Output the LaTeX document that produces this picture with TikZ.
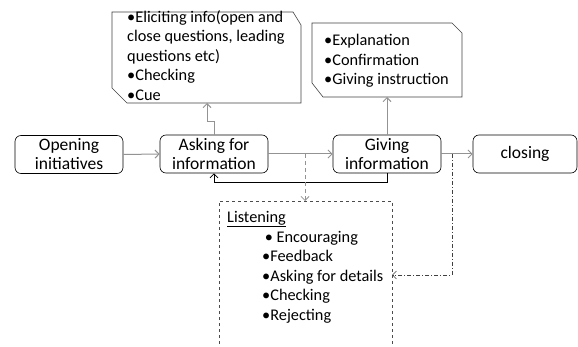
\documentclass[tikz,border=0pt]{standalone}
\usepackage{fontspec}
\setmainfont{Carlito}
\usetikzlibrary{arrows.meta}
\tikzset{
  stage/.style={draw=black, line width=0.6pt, rounded corners=6pt, minimum width=108pt, minimum height=38pt, align=center, inner sep=0pt, font=\fontsize{17.5}{19}\selectfont},
  flow/.style={draw=gray!85, line width=1pt, -{Straight Barb[length=4pt,width=8pt]}},
  callout/.style={draw=black!75, line width=0.6pt},
  txt/.style={align=left, inner sep=0pt, font=\fontsize{16.3}{19.5}\selectfont},
}
\begin{document}
\begin{tikzpicture}[x=1pt,y=-1pt]
\useasboundingbox (0,0) rectangle (578,347);
% stage boxes
\node[stage] (open) at (69,154.5) {Opening\\initiatives};
\node[stage] (ask) at (214,154) {Asking for\\information};
\node[stage] (give) at (387,154) {Giving\\information};
\node[stage, minimum width=104pt] (close) at (525,154) {closing};
% callout 1
\draw[callout] (112,12) -- (293,12) -- (301,25) -- (301,103) -- (127,103) -- (112,88) -- cycle;
\node[txt, anchor=north west] (c1) at (127,10) {•Eliciting info(open and\\close questions, leading\\questions etc)\\•Checking\\•Cue};
\coordinate (c1b) at (207,103);
% callout 2
\draw[callout] (312,23) -- (452,23) -- (462,33) -- (462,97) -- (323,97) -- (312,83) -- cycle;
\node[txt, anchor=north west] (c2) at (324,34) {•Explanation\\•Confirmation\\•Giving instruction};
\coordinate (c2b) at (387,97);
% listening box
\draw[draw=black!70, dashed, line width=0.6pt] (219,350) -- (219,201) -- (392,201) -- (392,350);
\node[txt, anchor=north west] (lt) at (227,211) {\underline{Listening}};
\node[txt, anchor=north west] (li) at (262,231) {\,• Encouraging\\•Feedback\\•Asking for details\\•Checking\\•Rejecting};
\coordinate (lbtop) at (305,201);
\coordinate (lbright) at (392,275);
% flow arrows
\draw[flow] (open.east) -- (ask.west);
\draw[flow] (ask.east) -- (give.west);
\draw[flow] (give.east) -- (close.west);
\draw[flow] (give.north) -- (c2b);
\draw[flow] (ask.north) -- ++(0,-13) -| (c1b);
\draw[draw=black, line width=0.8pt, -{Straight Barb[length=4pt,width=8pt]}] (give.south) -- ++(0,9) -| (ask.south);
\coordinate (d1) at (305,154);
\draw[flow, dashed, line width=0.8pt, dash pattern=on 4pt off 3pt] (d1) -- (lbtop);
\coordinate (d2) at (452,154);
\draw[draw=black!75, line width=0.6pt, dash pattern=on 4pt off 2pt on 1pt off 2pt, -{Straight Barb[length=4pt,width=8pt]}] (d2) |- (lbright);
\end{tikzpicture}
\end{document}
